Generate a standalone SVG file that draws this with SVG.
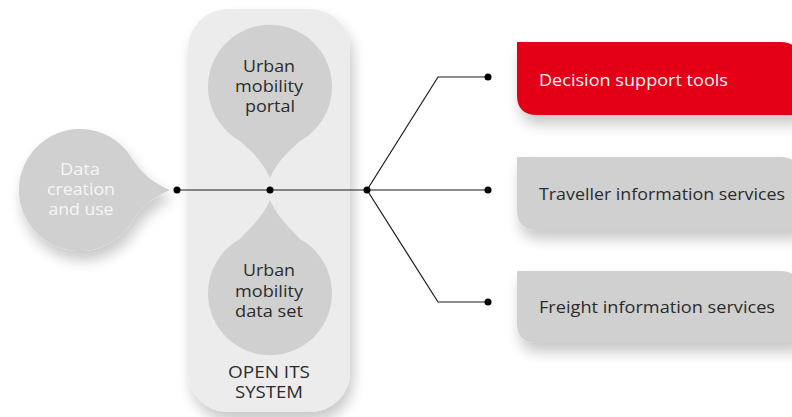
<svg xmlns="http://www.w3.org/2000/svg" width="792" height="417" viewBox="0 0 792 417">
<defs>
<filter id="sh" x="-30%" y="-30%" width="160%" height="180%">
<feGaussianBlur in="SourceAlpha" stdDeviation="7"/>
<feOffset dx="3" dy="9" result="b"/>
<feComponentTransfer><feFuncA type="linear" slope="0.22"/></feComponentTransfer>
<feMerge><feMergeNode/><feMergeNode in="SourceGraphic"/></feMerge>
</filter>
<style>
text{font-family:"Open Sans","Liberation Sans",sans-serif;font-size:16px;}
.dk{fill:#2b2b2b;}
.wt{fill:#f6f6f6;}
.drop{fill:#d0d0d0;}
.ln{stroke:#1a1a1a;stroke-width:1.2;fill:none;}
.dot{fill:#000;}
</style>
</defs>
<rect width="792" height="417" fill="#ffffff"/>

<g id="open-its-system">
<rect x="188" y="9" width="162" height="403" rx="40" fill="#ececec" filter="url(#sh)"/>
<text class="dk" x="269" y="378" text-anchor="middle" textLength="82" lengthAdjust="spacingAndGlyphs">OPEN ITS</text>
<text class="dk" x="269" y="398" text-anchor="middle" textLength="68" lengthAdjust="spacingAndGlyphs">SYSTEM</text>
</g>

<g id="data-creation">
<path class="drop" d="M170,190 C150,182 140,170 133,160 A61,61 0 1 0 133,220 C140,210 150,198 170,190 Z" filter="url(#sh)"/>
<text class="wt" x="80" y="175" text-anchor="middle" textLength="40" lengthAdjust="spacingAndGlyphs">Data</text>
<text class="wt" x="81" y="195" text-anchor="middle" textLength="68" lengthAdjust="spacingAndGlyphs">creation</text>
<text class="wt" x="81" y="215" text-anchor="middle" textLength="65" lengthAdjust="spacingAndGlyphs">and use</text>
</g>

<g id="portal">
<path class="drop" d="M270,178 C262,160 250,150 240,141 A62,62 0 1 1 300,141 C290,150 278,160 270,178 Z"/>
<text class="dk" x="269" y="72" text-anchor="middle" textLength="52" lengthAdjust="spacingAndGlyphs">Urban</text>
<text class="dk" x="269" y="92" text-anchor="middle" textLength="68" lengthAdjust="spacingAndGlyphs">mobility</text>
<text class="dk" x="270" y="112" text-anchor="middle" textLength="50" lengthAdjust="spacingAndGlyphs">portal</text>
</g>

<g id="data-set">
<path class="drop" d="M270,200 C262,218 250,228 240,239 A62,62 0 1 0 300,239 C290,228 278,218 270,200 Z"/>
<text class="dk" x="269" y="276" text-anchor="middle" textLength="52" lengthAdjust="spacingAndGlyphs">Urban</text>
<text class="dk" x="269" y="297" text-anchor="middle" textLength="68" lengthAdjust="spacingAndGlyphs">mobility</text>
<text class="dk" x="269" y="317" text-anchor="middle" textLength="68" lengthAdjust="spacingAndGlyphs">data set</text>
</g>

<g id="decision-support-tools">
<path d="M517,42 H780 Q800,42 800,62 V115 H537 Q517,115 517,95 Z" fill="#e30613" filter="url(#sh)"/>
<text class="wt" x="539" y="86" textLength="189" lengthAdjust="spacingAndGlyphs">Decision support tools</text>
</g>

<g id="traveller-information">
<path d="M517,157 H780 Q800,157 800,177 V230 H537 Q517,230 517,210 Z" fill="#d0d0d0" filter="url(#sh)"/>
<text class="dk" x="539" y="200" textLength="246" lengthAdjust="spacingAndGlyphs">Traveller information services</text>
</g>

<g id="freight-information">
<path d="M517,271 H780 Q800,271 800,291 V343 H537 Q517,343 517,323 Z" fill="#d0d0d0" filter="url(#sh)"/>
<text class="dk" x="539" y="313" textLength="236" lengthAdjust="spacingAndGlyphs">Freight information services</text>
</g>

<g id="connectors">
<path class="ln" d="M177,190 H488"/>
<path class="ln" d="M367,190 L438,77 H488"/>
<path class="ln" d="M367,190 L438,302 H488"/>
<circle class="dot" cx="177" cy="190" r="3.5"/>
<circle class="dot" cx="270" cy="190" r="3.5"/>
<circle class="dot" cx="367" cy="190" r="3.5"/>
<circle class="dot" cx="488" cy="77" r="3.5"/>
<circle class="dot" cx="488" cy="190" r="3.5"/>
<circle class="dot" cx="488" cy="302" r="3.5"/>
</g>
</svg>
